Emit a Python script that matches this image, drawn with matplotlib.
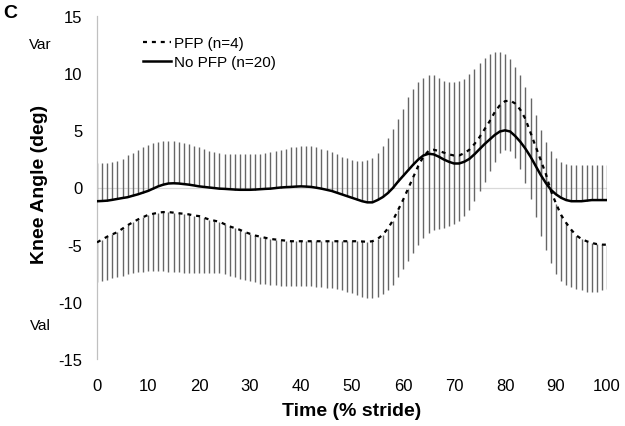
import numpy as np
import matplotlib
matplotlib.use("Agg")
import matplotlib.pyplot as plt

plt.rcParams['font.family'] = ['Liberation Sans', 'DejaVu Sans']
plt.rcParams['axes.unicode_minus'] = False

# % stride, one value per percent
stride = list(range(0, 101))

# No PFP (n=20): mean knee angle and mean + SD (bars go upward)
nopfp_mean = [
    -1.2, -1.18, -1.15, -1.08, -1.0, -0.92, -0.85, -0.72, -0.6, -0.45,
    -0.3, -0.1, 0.1, 0.25, 0.35, 0.37, 0.35, 0.3, 0.25, 0.18,
    0.1, 0.05, 0.0, -0.05, -0.1, -0.12, -0.15, -0.18, -0.2, -0.2,
    -0.2, -0.18, -0.15, -0.12, -0.1, -0.05, 0.0, 0.03, 0.05, 0.08,
    0.1, 0.08, 0.05, -0.02, -0.1, -0.2, -0.3, -0.45, -0.6, -0.75,
    -0.9, -1.05, -1.2, -1.3, -1.3, -1.1, -0.85, -0.5, -0.05, 0.5,
    1.0, 1.5, 2.0, 2.45, 2.8, 2.95, 2.9, 2.7, 2.45, 2.25,
    2.1, 2.1, 2.25, 2.5, 2.9, 3.35, 3.8, 4.2, 4.6, 4.9,
    5.0, 4.9, 4.5, 4.0, 3.4, 2.7, 1.9, 1.1, 0.4, -0.2,
    -0.6, -0.9, -1.1, -1.2, -1.2, -1.2, -1.15, -1.1, -1.1, -1.1,
    -1.1,
]
nopfp_upper = [
    2.1, 2.1, 2.1, 2.2, 2.3, 2.5, 2.8, 3.0, 3.3, 3.5,
    3.7, 3.9, 4.0, 4.05, 4.1, 4.05, 4.0, 3.9, 3.8, 3.65,
    3.5, 3.35, 3.2, 3.1, 3.0, 2.95, 2.9, 2.9, 2.9, 2.9,
    2.9, 2.9, 2.95, 3.0, 3.1, 3.2, 3.3, 3.4, 3.5, 3.55,
    3.6, 3.6, 3.6, 3.5, 3.4, 3.25, 3.1, 2.9, 2.7, 2.55,
    2.4, 2.3, 2.3, 2.4, 2.6, 3.0, 3.6, 4.3, 5.1, 6.0,
    6.9, 7.9, 8.6, 9.2, 9.6, 9.8, 9.8, 9.6, 9.35, 9.2,
    9.2, 9.3, 9.5, 9.9, 10.4, 10.9, 11.3, 11.7, 11.85, 11.85,
    11.7, 11.2, 10.5, 9.8, 8.8, 7.8, 6.3, 5.0, 4.0, 3.2,
    2.6, 2.2, 2.05, 2.0, 2.0, 2.0, 2.0, 2.0, 2.0, 2.0,
    2.0,
]

# PFP (n=4): mean knee angle and mean - SD (bars go downward)
pfp_mean = [
    -4.8, -4.55, -4.3, -4.1, -3.9, -3.6, -3.3, -3.05, -2.8, -2.6,
    -2.4, -2.3, -2.2, -2.15, -2.15, -2.2, -2.25, -2.3, -2.35, -2.45,
    -2.5, -2.65, -2.8, -2.9, -3.0, -3.2, -3.4, -3.55, -3.7, -3.9,
    -4.05, -4.2, -4.3, -4.4, -4.5, -4.55, -4.6, -4.65, -4.7, -4.7,
    -4.7, -4.7, -4.7, -4.7, -4.7, -4.7, -4.7, -4.7, -4.7, -4.7,
    -4.7, -4.7, -4.72, -4.75, -4.7, -4.5, -4.15, -3.6, -2.9, -2.0,
    -1.1, -0.1, 0.9, 1.9, 2.7, 3.2, 3.3, 3.2, 3.05, 2.9,
    2.8, 2.8, 3.0, 3.3, 3.8, 4.4, 5.1, 5.8, 6.6, 7.2,
    7.55, 7.6, 7.35, 6.8, 6.0, 4.8, 3.6, 2.4, 1.2, -0.3,
    -1.4, -2.4, -3.1, -3.7, -4.2, -4.5, -4.7, -4.85, -4.95, -5.0,
    -5.0,
]
pfp_lower = [
    -8.3, -8.2, -8.1, -7.95, -7.8, -7.7, -7.6, -7.5, -7.4, -7.35,
    -7.3, -7.3, -7.3, -7.3, -7.35, -7.4, -7.4, -7.45, -7.5, -7.5,
    -7.5, -7.5, -7.5, -7.5, -7.5, -7.6, -7.7, -7.85, -8.0, -8.1,
    -8.2, -8.3, -8.4, -8.45, -8.5, -8.55, -8.6, -8.6, -8.6, -8.6,
    -8.6, -8.6, -8.65, -8.7, -8.7, -8.75, -8.8, -8.85, -8.95, -9.1,
    -9.25, -9.4, -9.55, -9.65, -9.7, -9.6, -9.35, -9.0, -8.5, -7.8,
    -7.1, -6.4, -5.7, -5.0, -4.4, -4.0, -3.75, -3.65, -3.55, -3.4,
    -3.2, -2.9, -2.5, -2.0, -1.2, -0.3, 0.5, 1.4, 2.2, 3.0,
    3.3, 3.2, 2.6, 1.6, 0.4, -1.0, -2.6, -4.2, -5.5, -6.6,
    -7.6, -8.2, -8.5, -8.7, -8.9, -9.0, -9.1, -9.1, -9.1, -9.0,
    -8.9,
]

yticks = [-15, -10, -5, 0, 5, 10, 15]
xticks = [0, 10, 20, 30, 40, 50, 60, 70, 80, 90, 100]

W, H = 625, 427
fig = plt.figure(figsize=(W / 100, H / 100), dpi=100)
ax = fig.add_axes([97 / W, 1 - 360 / H, 510 / W, 343 / H])

x = np.array(stride)
nm, nu = np.array(nopfp_mean), np.array(nopfp_upper)
pm, pl = np.array(pfp_mean), np.array(pfp_lower)

# one-sided SD bars
bar_col = "#666666"
ax.vlines(x, nm, nu, color=bar_col, lw=1.0, zorder=2)
ax.vlines(x, pl, pm, color=bar_col, lw=1.0, zorder=2)

ax.axhline(0, color="#d9d9d9", lw=0.9, zorder=1)

ax.plot(x, pm, color="black", lw=1.6, ls=(0, (1.8, 2.2)), zorder=4, label="PFP (n=4)")
ax.plot(x, nm, color="black", lw=1.8, zorder=4, label="No PFP (n=20)")

ax.set_xlim(0, 100)
ax.set_ylim(-15, 15)
ax.set_xticks(xticks)
ax.set_yticks(yticks)
ax.tick_params(axis="y", length=0, pad=10.5, labelsize=12)
ax.tick_params(axis="x", length=0, pad=14, labelsize=12)
for s in ["top", "right", "bottom"]:
    ax.spines[s].set_visible(False)
ax.spines["left"].set_color("#c0c0c0")
ax.spines["left"].set_linewidth(0.9)

leg = fig.legend(loc="upper left", bbox_to_anchor=(143 / W, 1 - 37 / H),
                 frameon=False, fontsize=11, handlelength=1.8,
                 handletextpad=0.25, labelspacing=0.35, borderpad=0,
                 borderaxespad=0)

fig.text(40 / W, 1 - 184 / H, "Knee Angle (deg)", rotation=90, ha="center",
         va="center", fontsize=14, fontweight="bold")
fig.text(352 / W, 1 - 412 / H, "Time (% stride)", ha="center", va="center",
         fontsize=14, fontweight="bold")
fig.text(3 / W, 1 - 14 / H, "C", ha="left", va="center", fontsize=14,
         fontweight="bold")
fig.text(40 / W, 1 - 45 / H, "Var", ha="center", va="center", fontsize=11)
fig.text(40 / W, 1 - 326 / H, "Val", ha="center", va="center", fontsize=11)

fig.savefig("out.png", dpi=100)
